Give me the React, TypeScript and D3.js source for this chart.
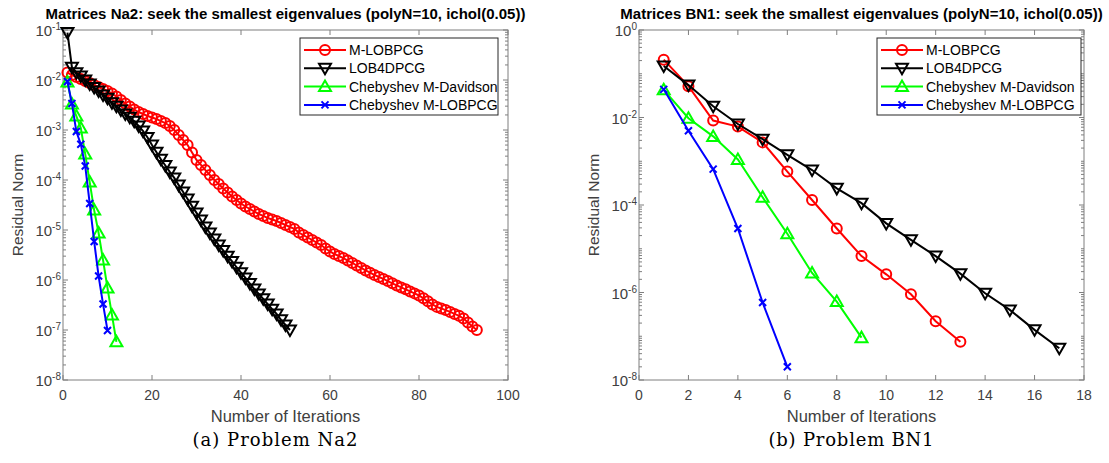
import React from 'react';
import * as d3 from 'd3';

// Problem Na2: residual norm per iteration (iteration = index + 1)
const na2MLobpcg = [
  1.41e-2, 1.26e-2, 1.15e-2, 1.05e-2, 9.55e-3, 8.71e-3, 7.94e-3, 7.24e-3, 6.61e-3, 6.03e-3,
  5.37e-3, 4.68e-3, 3.98e-3, 3.39e-3, 2.95e-3, 2.57e-3, 2.29e-3, 2.09e-3, 1.91e-3, 1.78e-3,
  1.66e-3, 1.51e-3, 1.38e-3, 1.2e-3, 1.0e-3, 7.94e-4, 6.31e-4, 5.01e-4, 3.55e-4, 2.51e-4,
  2.0e-4, 1.58e-4, 1.26e-4, 1.0e-4, 8.32e-5, 6.76e-5, 5.62e-5, 4.68e-5, 3.98e-5, 3.39e-5,
  2.95e-5, 2.63e-5, 2.34e-5, 2.09e-5, 1.91e-5, 1.74e-5, 1.62e-5, 1.51e-5, 1.38e-5, 1.26e-5,
  1.15e-5, 1.05e-5, 8.91e-6, 7.94e-6, 7.08e-6, 6.31e-6, 5.62e-6, 5.01e-6, 4.27e-6, 3.72e-6,
  3.31e-6, 3.02e-6, 2.75e-6, 2.45e-6, 2.19e-6, 1.95e-6, 1.74e-6, 1.55e-6, 1.4e-6, 1.26e-6,
  1.15e-6, 1.05e-6, 9.5e-7, 8.6e-7, 7.8e-7, 7.1e-7, 6.5e-7, 5.9e-7, 5.4e-7, 4.9e-7,
  4.3e-7, 3.75e-7, 3.25e-7, 2.9e-7, 2.7e-7, 2.5e-7, 2.3e-7, 2.1e-7, 1.92e-7, 1.7e-7,
  1.41e-7, 1.17e-7, 1.0e-7,
];
const na2Lob4dpcg = [
  8.9e-2, 1.8e-2, 1.4e-2, 1.2e-2, 1.0e-2, 8.3e-3, 7.1e-3, 6.0e-3, 5.0e-3, 4.3e-3,
  3.5e-3, 3.0e-3, 2.5e-3, 2.1e-3, 1.8e-3, 1.5e-3, 1.2e-3, 9.5e-4, 7.1e-4, 5.0e-4,
  3.6e-4, 2.6e-4, 1.95e-4, 1.45e-4, 1.1e-4, 7.9e-5, 5.75e-5, 4.17e-5, 3.0e-5, 2.2e-5,
  1.58e-5, 1.15e-5, 8.7e-6, 6.6e-6, 5.0e-6, 3.9e-6, 3.0e-6, 2.35e-6, 1.8e-6, 1.4e-6,
  1.1e-6, 8.5e-7, 6.6e-7, 5.25e-7, 4.2e-7, 3.3e-7, 2.6e-7, 2.1e-7, 1.6e-7, 1.26e-7,
  1.0e-7,
];
const na2ChebDavidson = [
  9.1e-3, 3.3e-3, 1.9e-3, 1.1e-3, 3.3e-4, 9.1e-5, 2.5e-5, 8.7e-6, 2.5e-6, 6.9e-7,
  2.0e-7, 5.8e-8,
];
const na2ChebLobpcg = [
  9.3e-3, 3.4e-3, 9.3e-4, 5.2e-4, 1.9e-4, 3.4e-5, 5.9e-6, 1.2e-6, 3.3e-7, 9.8e-8,
];

// Problem BN1
const bn1MLobpcg = [0.21, 0.052, 0.0085, 0.0062, 0.0027, 5.8e-4, 1.3e-4, 2.9e-5, 6.8e-6, 2.6e-6, 9.1e-7, 2.2e-7, 7.5e-8];
const bn1Lob4dpcg = [0.15, 0.055, 0.018, 0.0071, 0.0032, 1.4e-3, 6.3e-4, 2.4e-4, 1.1e-4, 3.8e-5, 1.6e-5, 6.8e-6, 2.7e-6, 9.6e-7, 4.0e-7, 1.4e-7, 5.3e-8];
const bn1ChebDavidson = [0.043, 0.0096, 0.0037, 0.0011, 1.5e-4, 2.2e-5, 2.8e-6, 6.2e-7, 9.3e-8];
const bn1ChebLobpcg = [0.044, 0.005, 6.6e-4, 2.9e-5, 5.9e-7, 2.0e-8];

const seriesNames = ['M-LOBPCG', 'LOB4DPCG', 'Chebyshev M-Davidson', 'Chebyshev M-LOBPCG'];
const seriesColors = ['#ff0000', '#000000', '#00ff00', '#0000ff'];
const seriesMarkers = ['circle', 'triangleDown', 'triangleUp', 'cross'];

const na2XTicks = [0, 20, 40, 60, 80, 100];
const bn1XTicks = [0, 2, 4, 6, 8, 10, 12, 14, 16, 18];
const na2YTicks = [1e-8, 1e-7, 1e-6, 1e-5, 1e-4, 1e-3, 1e-2, 1e-1];
const bn1YTicks = [1e-8, 1e-6, 1e-4, 1e-2, 1];

const FONT = 'Liberation Sans, Arial, Helvetica, sans-serif';
const AXIS = '#7f7f7f';
const TXT = '#404040';

const Marker = ({ type, cx, cy, color }) => {
  if (type === 'circle') {
    return <circle cx={cx} cy={cy} r={5} fill="none" stroke={color} strokeWidth={2} />;
  }
  if (type === 'triangleDown') {
    const p = `${cx - 6},${cy - 4.5} ${cx + 6},${cy - 4.5} ${cx},${cy + 6}`;
    return <polygon points={p} fill="none" stroke={color} strokeWidth={2} />;
  }
  if (type === 'triangleUp') {
    const p = `${cx - 6},${cy + 4.5} ${cx + 6},${cy + 4.5} ${cx},${cy - 6}`;
    return <polygon points={p} fill="none" stroke={color} strokeWidth={2} />;
  }
  return (
    <path
      d={`M${cx - 3.5},${cy - 3.5}L${cx + 3.5},${cy + 3.5}M${cx - 3.5},${cy + 3.5}L${cx + 3.5},${cy - 3.5}`}
      stroke={color}
      strokeWidth={2}
    />
  );
};

const Panel = ({ left, right, xMax, xTicks, yTicks, title, caption, captionX, series, legendLeft, legendRight }) => {
  const top = 30, bottom = 380;
  const yMin = yTicks[0], yMax = yTicks[yTicks.length - 1];
  const x = d3.scaleLinear().domain([0, xMax]).range([left, right]);
  const y = d3.scaleLog().domain([yMin, yMax]).range([bottom, top]);
  const lo = Math.round(Math.log10(yMin)), hi = Math.round(Math.log10(yMax));
  // minor ticks: 2..9 in each decade, plus unlabelled decades
  const minor = [];
  d3.range(lo, hi).forEach(e => {
    for (let k = 1; k <= 9; k++) {
      if (k === 1 && yTicks.some(t => Math.abs(Math.log10(t) - e) < 1e-9)) continue;
      minor.push(k * Math.pow(10, e));
    }
  });
  const line = d3.line().x((_, i) => x(i + 1)).y(d => y(d));
  const cx = (left + right) / 2;
  const legendTop = 38, rowH = 18.3;

  return (
    <g fontFamily={FONT}>
      {xTicks.map(t => (
        <g key={'xt' + t}>
          <line x1={x(t)} x2={x(t)} y1={bottom} y2={bottom - 5} stroke={AXIS} />
          <line x1={x(t)} x2={x(t)} y1={top} y2={top + 5} stroke={AXIS} />
          <text x={x(t)} y={400} textAnchor="middle" fontSize={14} fill={TXT}>{t}</text>
        </g>
      ))}
      {yTicks.map(t => (
        <g key={'yt' + t}>
          <line x1={left} x2={left + 5} y1={y(t)} y2={y(t)} stroke={AXIS} />
          <line x1={right} x2={right - 5} y1={y(t)} y2={y(t)} stroke={AXIS} />
          <text x={left - 2} y={y(t) + 6} textAnchor="end" fontSize={15} fill={TXT}>
            <tspan>10</tspan>
            <tspan dy={-6} fontSize={10}>{Math.round(Math.log10(t))}</tspan>
          </text>
        </g>
      ))}
      {minor.map((v, i) => (
        <g key={'mt' + i}>
          <line x1={left} x2={left + 3} y1={y(v)} y2={y(v)} stroke={AXIS} />
          <line x1={right} x2={right - 3} y1={y(v)} y2={y(v)} stroke={AXIS} />
        </g>
      ))}
      <rect x={left} y={top} width={right - left} height={bottom - top} fill="none" stroke={AXIS} />

      {series.map((vals, s) => (
        <g key={'s' + s}>
          <path d={line(vals)} fill="none" stroke={seriesColors[s]} strokeWidth={2} />
          {vals.map((v, i) => (
            <Marker key={i} type={seriesMarkers[s]} cx={x(i + 1)} cy={y(v)} color={seriesColors[s]} />
          ))}
        </g>
      ))}

      <rect x={legendLeft} y={legendTop} width={legendRight - legendLeft} height={77} fill="#fff" stroke="#262626" strokeWidth={1} />
      {seriesNames.map((name, s) => {
        const ry = legendTop + 12 + s * rowH;
        const lx = legendLeft + 4;
        return (
          <g key={'lg' + s}>
            <line x1={lx} x2={lx + 42} y1={ry} y2={ry} stroke={seriesColors[s]} strokeWidth={2} />
            <Marker type={seriesMarkers[s]} cx={lx + 21} cy={ry} color={seriesColors[s]} />
            <text x={lx + 45} y={ry + 5} fontSize={14} fill="#000">{name}</text>
          </g>
        );
      })}

      <text x={cx} y={18.5} textAnchor="middle" fontSize={15} fontWeight="bold" fill="#000">{title}</text>
      <text x={cx} y={422} textAnchor="middle" fontSize={16.5} fill={TXT}>Number of Iterations</text>
      <text transform={`translate(${left - 40},${(top + bottom) / 2}) rotate(-90)`} textAnchor="middle" fontSize={15.5} fill={TXT}>
        Residual Norm
      </text>
      <text x={captionX} y={446} textAnchor="middle" fontSize={18} textLength={165} lengthAdjust="spacing"
        fontFamily="DejaVu Serif, serif" fill="#000">{caption}</text>
    </g>
  );
};

export default function App() {
  return (
    <svg width={1109} height={463} style={{ position: 'absolute', left: 0, top: 0, background: '#fff' }}>
      <rect width={1109} height={463} fill="#fff" />
      <Panel
        left={63} right={508} xMax={100} xTicks={na2XTicks} yTicks={na2YTicks}
        title="Matrices Na2: seek the smallest eigenvalues (polyN=10, ichol(0.05))"
        caption="(a) Problem Na2" captionX={275}
        series={[na2MLobpcg, na2Lob4dpcg, na2ChebDavidson, na2ChebLobpcg]}
        legendLeft={300} legendRight={498}
      />
      <Panel
        left={639} right={1084} xMax={18} xTicks={bn1XTicks} yTicks={bn1YTicks}
        title="Matrices BN1: seek the smallest eigenvalues (polyN=10, ichol(0.05))"
        caption="(b) Problem BN1" captionX={851}
        series={[bn1MLobpcg, bn1Lob4dpcg, bn1ChebDavidson, bn1ChebLobpcg]}
        legendLeft={877} legendRight={1081}
      />
    </svg>
  );
}
